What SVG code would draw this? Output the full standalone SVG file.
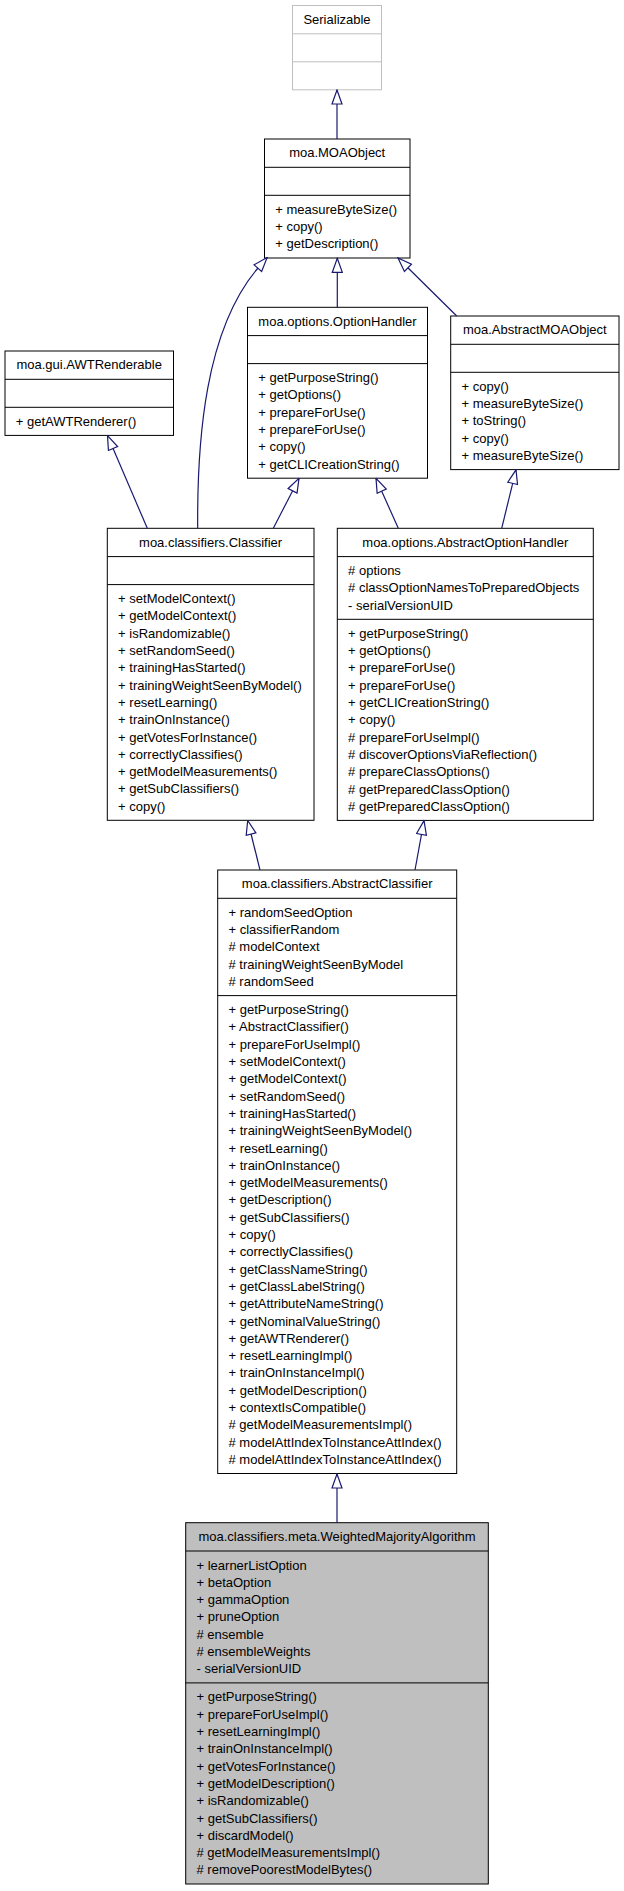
<svg xmlns="http://www.w3.org/2000/svg" width="624" height="1891" viewBox="0 0 624 1891">
<style>
text{font-family:"Liberation Sans",Arial,Helvetica,sans-serif;font-size:13px;fill:#000}
.h{text-anchor:middle}
.b{fill:#fff;stroke:#000;stroke-width:1}
.g{fill:#fff;stroke:#bfbfbf;stroke-width:1}
.w{fill:#bfbfbf;stroke:#000;stroke-width:1}
.d{stroke:#000;stroke-width:1}
.dg{stroke:#bfbfbf;stroke-width:1}
.e{fill:none;stroke:#191970;stroke-width:1.2;marker-end:url(#tri)}
</style>
<defs>
<marker id="tri" viewBox="-1 -1 16 12" refX="14" refY="5" markerWidth="16" markerHeight="12" markerUnits="userSpaceOnUse" orient="auto">
<path d="M0,0 L14,5 L0,10 Z" fill="#fff" stroke="#191970" stroke-width="1.2"/>
</marker>
</defs>
<g id="Serializable">
<rect class="g" x="292.5" y="5.5" width="89" height="84.3"/>
<line class="dg" x1="292.5" y1="33.8" x2="381.5" y2="33.8"/>
<line class="dg" x1="292.5" y1="61.8" x2="381.5" y2="61.8"/>
<text class="h" x="337" y="24">Serializable</text>
</g>
<g id="MOAObject">
<rect class="b" x="264.5" y="139" width="145.5" height="119"/>
<line class="d" x1="264.5" y1="167.3" x2="410" y2="167.3"/>
<line class="d" x1="264.5" y1="195.3" x2="410" y2="195.3"/>
<text class="h" x="337.2" y="157.3">moa.MOAObject</text>
<text x="275.3" y="213.8"><tspan x="275.3" dy="0">+ measureByteSize()</tspan><tspan x="275.3" dy="17.3">+ copy()</tspan><tspan x="275.3" dy="17.3">+ getDescription()</tspan></text>
</g>
<g id="AWTRenderable">
<rect class="b" x="5" y="351" width="168.5" height="84.4"/>
<line class="d" x1="5" y1="379.3" x2="173.5" y2="379.3"/>
<line class="d" x1="5" y1="407.3" x2="173.5" y2="407.3"/>
<text class="h" x="89.2" y="369.3">moa.gui.AWTRenderable</text>
<text x="15.8" y="425.8">+ getAWTRenderer()</text>
</g>
<g id="OptionHandler">
<rect class="b" x="247.5" y="307.3" width="180" height="170.9"/>
<line class="d" x1="247.5" y1="335.6" x2="427.5" y2="335.6"/>
<line class="d" x1="247.5" y1="363.6" x2="427.5" y2="363.6"/>
<text class="h" x="337.5" y="325.6">moa.options.OptionHandler</text>
<text x="258.3" y="382.1"><tspan x="258.3" dy="0">+ getPurposeString()</tspan><tspan x="258.3" dy="17.3">+ getOptions()</tspan><tspan x="258.3" dy="17.3">+ prepareForUse()</tspan><tspan x="258.3" dy="17.3">+ prepareForUse()</tspan><tspan x="258.3" dy="17.3">+ copy()</tspan><tspan x="258.3" dy="17.3">+ getCLICreationString()</tspan></text>
</g>
<g id="AbstractMOAObject">
<rect class="b" x="450.7" y="316" width="168.3" height="153.6"/>
<line class="d" x1="450.7" y1="344.3" x2="619" y2="344.3"/>
<line class="d" x1="450.7" y1="372.3" x2="619" y2="372.3"/>
<text class="h" x="534.8" y="334.3">moa.AbstractMOAObject</text>
<text x="461.5" y="390.8"><tspan x="461.5" dy="0">+ copy()</tspan><tspan x="461.5" dy="17.3">+ measureByteSize()</tspan><tspan x="461.5" dy="17.3">+ toString()</tspan><tspan x="461.5" dy="17.3">+ copy()</tspan><tspan x="461.5" dy="17.3">+ measureByteSize()</tspan></text>
</g>
<g id="Classifier">
<rect class="b" x="107.3" y="528.3" width="206.7" height="292"/>
<line class="d" x1="107.3" y1="556.6" x2="314" y2="556.6"/>
<line class="d" x1="107.3" y1="584.6" x2="314" y2="584.6"/>
<text class="h" x="210.6" y="546.6">moa.classifiers.Classifier</text>
<text x="118.1" y="603.1"><tspan x="118.1" dy="0">+ setModelContext()</tspan><tspan x="118.1" dy="17.3">+ getModelContext()</tspan><tspan x="118.1" dy="17.3">+ isRandomizable()</tspan><tspan x="118.1" dy="17.3">+ setRandomSeed()</tspan><tspan x="118.1" dy="17.3">+ trainingHasStarted()</tspan><tspan x="118.1" dy="17.3">+ trainingWeightSeenByModel()</tspan><tspan x="118.1" dy="17.3">+ resetLearning()</tspan><tspan x="118.1" dy="17.3">+ trainOnInstance()</tspan><tspan x="118.1" dy="17.3">+ getVotesForInstance()</tspan><tspan x="118.1" dy="17.3">+ correctlyClassifies()</tspan><tspan x="118.1" dy="17.3">+ getModelMeasurements()</tspan><tspan x="118.1" dy="17.3">+ getSubClassifiers()</tspan><tspan x="118.1" dy="17.3">+ copy()</tspan></text>
</g>
<g id="AbstractOptionHandler">
<rect class="b" x="337.3" y="528.3" width="256" height="292.1"/>
<line class="d" x1="337.3" y1="556.6" x2="593.3" y2="556.6"/>
<line class="d" x1="337.3" y1="619.3" x2="593.3" y2="619.3"/>
<text class="h" x="465.3" y="546.6">moa.options.AbstractOptionHandler</text>
<text x="348.1" y="575.1"><tspan x="348.1" dy="0"># options</tspan><tspan x="348.1" dy="17.3"># classOptionNamesToPreparedObjects</tspan><tspan x="348.1" dy="17.3">- serialVersionUID</tspan></text>
<text x="348.1" y="637.8"><tspan x="348.1" dy="0">+ getPurposeString()</tspan><tspan x="348.1" dy="17.3">+ getOptions()</tspan><tspan x="348.1" dy="17.3">+ prepareForUse()</tspan><tspan x="348.1" dy="17.3">+ prepareForUse()</tspan><tspan x="348.1" dy="17.3">+ getCLICreationString()</tspan><tspan x="348.1" dy="17.3">+ copy()</tspan><tspan x="348.1" dy="17.3"># prepareForUseImpl()</tspan><tspan x="348.1" dy="17.3"># discoverOptionsViaReflection()</tspan><tspan x="348.1" dy="17.3"># prepareClassOptions()</tspan><tspan x="348.1" dy="17.3"># getPreparedClassOption()</tspan><tspan x="348.1" dy="17.3"># getPreparedClassOption()</tspan></text>
</g>
<g id="AbstractClassifier">
<rect class="b" x="217.7" y="870" width="239" height="603.5"/>
<line class="d" x1="217.7" y1="898.3" x2="456.7" y2="898.3"/>
<line class="d" x1="217.7" y1="995.6" x2="456.7" y2="995.6"/>
<text class="h" x="337.2" y="888.3">moa.classifiers.AbstractClassifier</text>
<text x="228.5" y="916.8"><tspan x="228.5" dy="0">+ randomSeedOption</tspan><tspan x="228.5" dy="17.3">+ classifierRandom</tspan><tspan x="228.5" dy="17.3"># modelContext</tspan><tspan x="228.5" dy="17.3"># trainingWeightSeenByModel</tspan><tspan x="228.5" dy="17.3"># randomSeed</tspan></text>
<text x="228.5" y="1014.1"><tspan x="228.5" dy="0">+ getPurposeString()</tspan><tspan x="228.5" dy="17.3">+ AbstractClassifier()</tspan><tspan x="228.5" dy="17.3">+ prepareForUseImpl()</tspan><tspan x="228.5" dy="17.3">+ setModelContext()</tspan><tspan x="228.5" dy="17.3">+ getModelContext()</tspan><tspan x="228.5" dy="17.3">+ setRandomSeed()</tspan><tspan x="228.5" dy="17.3">+ trainingHasStarted()</tspan><tspan x="228.5" dy="17.3">+ trainingWeightSeenByModel()</tspan><tspan x="228.5" dy="17.3">+ resetLearning()</tspan><tspan x="228.5" dy="17.3">+ trainOnInstance()</tspan><tspan x="228.5" dy="17.3">+ getModelMeasurements()</tspan><tspan x="228.5" dy="17.3">+ getDescription()</tspan><tspan x="228.5" dy="17.3">+ getSubClassifiers()</tspan><tspan x="228.5" dy="17.3">+ copy()</tspan><tspan x="228.5" dy="17.3">+ correctlyClassifies()</tspan><tspan x="228.5" dy="17.3">+ getClassNameString()</tspan><tspan x="228.5" dy="17.3">+ getClassLabelString()</tspan><tspan x="228.5" dy="17.3">+ getAttributeNameString()</tspan><tspan x="228.5" dy="17.3">+ getNominalValueString()</tspan><tspan x="228.5" dy="17.3">+ getAWTRenderer()</tspan><tspan x="228.5" dy="17.3">+ resetLearningImpl()</tspan><tspan x="228.5" dy="17.3">+ trainOnInstanceImpl()</tspan><tspan x="228.5" dy="17.3">+ getModelDescription()</tspan><tspan x="228.5" dy="17.3">+ contextIsCompatible()</tspan><tspan x="228.5" dy="17.3"># getModelMeasurementsImpl()</tspan><tspan x="228.5" dy="17.3"># modelAttIndexToInstanceAttIndex()</tspan><tspan x="228.5" dy="17.3"># modelAttIndexToInstanceAttIndex()</tspan></text>
</g>
<g id="WeightedMajorityAlgorithm">
<rect class="w" x="185.7" y="1522.7" width="302.6" height="361.3"/>
<line class="d" x1="185.7" y1="1551" x2="488.3" y2="1551"/>
<line class="d" x1="185.7" y1="1682.9" x2="488.3" y2="1682.9"/>
<text class="h" x="337" y="1541">moa.classifiers.meta.WeightedMajorityAlgorithm</text>
<text x="196.5" y="1569.5"><tspan x="196.5" dy="0">+ learnerListOption</tspan><tspan x="196.5" dy="17.3">+ betaOption</tspan><tspan x="196.5" dy="17.3">+ gammaOption</tspan><tspan x="196.5" dy="17.3">+ pruneOption</tspan><tspan x="196.5" dy="17.3"># ensemble</tspan><tspan x="196.5" dy="17.3"># ensembleWeights</tspan><tspan x="196.5" dy="17.3">- serialVersionUID</tspan></text>
<text x="196.5" y="1701.4"><tspan x="196.5" dy="0">+ getPurposeString()</tspan><tspan x="196.5" dy="17.3">+ prepareForUseImpl()</tspan><tspan x="196.5" dy="17.3">+ resetLearningImpl()</tspan><tspan x="196.5" dy="17.3">+ trainOnInstanceImpl()</tspan><tspan x="196.5" dy="17.3">+ getVotesForInstance()</tspan><tspan x="196.5" dy="17.3">+ getModelDescription()</tspan><tspan x="196.5" dy="17.3">+ isRandomizable()</tspan><tspan x="196.5" dy="17.3">+ getSubClassifiers()</tspan><tspan x="196.5" dy="17.3">+ discardModel()</tspan><tspan x="196.5" dy="17.3"># getModelMeasurementsImpl()</tspan><tspan x="196.5" dy="17.3"># removePoorestModelBytes()</tspan></text>
</g>
<g id="connectors">
<path class="e" d="M337,139 L337,90"/>
<path class="e" d="M197.7,528.3 C197,440 205,330 258,268 L267.1,257.6"/>
<path class="e" d="M337.3,307.3 L337.3,258.3"/>
<path class="e" d="M456.7,316 L398,258"/>
<path class="e" d="M147.3,528.3 L107.5,435.6"/>
<path class="e" d="M273.3,528.3 L299,478.4"/>
<path class="e" d="M398.3,528.3 L376,478.4"/>
<path class="e" d="M501.7,528.3 L516,469.8"/>
<path class="e" d="M260,870 L247.7,820.5"/>
<path class="e" d="M415,870 L424,820.6"/>
<path class="e" d="M337,1522.7 L337,1474"/>
</g>
</svg>
